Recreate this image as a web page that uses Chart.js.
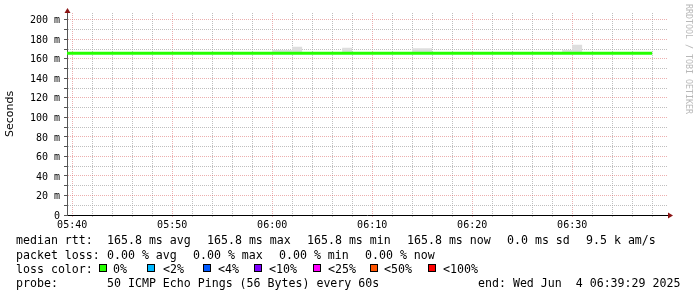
<!DOCTYPE html>
<html>
<head>
<meta charset="utf-8">
<script src="https://cdn.jsdelivr.net/npm/chart.js@4/dist/chart.umd.min.js"></script>
<style>
  body { margin: 0; background: #fff; }
  #wrap { position: relative; width: 697px; height: 297px; overflow: hidden; background: #fff; }
  canvas { position: absolute; left: 0; top: 0; }
  .txt { position: absolute; font: 11.6px 'DejaVu Sans Mono', monospace; line-height: 14px; white-space: pre; color: #000; }
  .box { position: absolute; width: 6px; height: 6px; border: 1px solid #000; }
  #credit { position: absolute; left: 684px; top: 4px; writing-mode: vertical-rl; font: 8.3px 'DejaVu Sans Mono', monospace; color: #b8b8b8; white-space: pre; }
</style>
</head>
<body>
<div id="wrap">
  <canvas id="pingChart" width="697" height="297"></canvas>
  <div id="credit">RRDTOOL / TOBI OETIKER</div>
</div>
<script>
// one sample per minute, value covers [t, t+1min)
const times = ['05:39','05:40','05:41','05:42','05:43','05:44','05:45','05:46','05:47','05:48',
               '05:49','05:50','05:51','05:52','05:53','05:54','05:55','05:56','05:57','05:58',
               '05:59','06:00','06:01','06:02','06:03','06:04','06:05','06:06','06:07','06:08',
               '06:09','06:10','06:11','06:12','06:13','06:14','06:15','06:16','06:17','06:18',
               '06:19','06:20','06:21','06:22','06:23','06:24','06:25','06:26','06:27','06:28',
               '06:29','06:30','06:31','06:32','06:33','06:34','06:35','06:36','06:37','06:38'];
// median rtt in ms
const median = [165.8,165.8,165.8,165.8,165.8,165.8,165.8,165.8,165.8,165.8,
                165.8,165.8,165.8,165.8,165.8,165.8,165.8,165.8,165.8,165.8,
                165.8,165.8,165.8,165.8,165.8,165.8,165.8,165.8,165.8,165.8,
                165.8,165.8,165.8,165.8,165.8,165.8,165.8,165.8,165.8,165.8,
                165.8,165.8,165.8,165.8,165.8,165.8,165.8,165.8,165.8,165.8,
                165.8,165.8,165.8,165.8,165.8,165.8,165.8,165.8,165.8,165.8];
// smoke band (min / max of the pings)
const smokeLow = [165.2,165.2,165.2,165.2,165.2,165.2,165.2,165.2,165.2,165.2,
                  165.2,165.2,165.2,165.2,165.2,165.2,165.2,165.2,165.2,165.2,
                  165.2,165.2,165.2,165.2,165.2,165.2,165.2,165.2,165.2,165.2,
                  165.2,165.2,165.2,165.2,165.2,165.2,165.2,165.2,165.2,165.2,
                  165.2,165.2,165.2,165.2,165.2,165.2,165.2,165.2,165.2,165.2,
                  165.2,165.2,165.2,165.2,165.2,165.2,165.2,165.2,165.2,165.2];
const smokeHigh = [165.2,165.2,165.2,165.2,165.2,165.2,165.2,165.2,165.2,165.2,
                   165.2,165.2,165.2,165.2,165.2,165.2,165.2,165.2,165.2,165.2,
                   165.2,169.2,169.2,172.3,165.2,165.2,165.2,165.2,171.3,165.2,
                   165.2,165.2,165.2,165.2,165.2,171.0,171.0,165.2,165.2,165.2,
                   165.2,165.2,165.2,165.2,165.2,165.2,165.2,165.2,165.2,165.2,
                   169.0,174.4,165.2,165.2,165.2,165.2,165.2,165.2,165.2,165.2];

const xTickLabels = ['05:40','05:50','06:00','06:10','06:20','06:30'];
const yTickValues = [0,10,20,30,40,50,60,70,80,90,100,110,120,130,140,150,160,170,180,190,200];
const yTickLabels = ['0','20 m','40 m','60 m','80 m','100 m','120 m','140 m','160 m','180 m','200 m'];

const rttStats = ['165.8 ms avg','165.8 ms max','165.8 ms min','165.8 ms now','0.0 ms sd','9.5 k am/s'];
const lossStats = ['0.00 % avg','0.00 % max','0.00 % min','0.00 % now'];
const lossNames = ['0%','<2%','<4%','<10%','<25%','<50%','<100%'];
const lossColors = ['#26ff00','#00b8ff','#0059ff','#7e00ff','#ff00ff','#ff5500','#ff0000'];
const probeText = '50 ICMP Echo Pings (56 Bytes) every 60s';
const endText = 'end: Wed Jun  4 06:39:29 2025';

const toMin = t => { const [h, m] = t.split(':').map(Number); return (h * 60 + m) - (5 * 60 + 40); };
const xs = times.map(toMin);
const pts = arr => arr.map((v, i) => ({x: xs[i], y: v}));

const minorGrid = 'rgba(170,170,170,0.75)';
const majorGrid = 'rgba(220,110,110,0.55)';

const arrows = {
  id: 'arrows',
  afterDraw(chart) {
    const {ctx, chartArea: a} = chart;
    ctx.save();
    ctx.strokeStyle = '#000';
    ctx.lineWidth = 1;
    ctx.beginPath();
    ctx.moveTo(a.right, a.bottom + 0.5);
    ctx.lineTo(a.right + 2, a.bottom + 0.5);
    ctx.stroke();
    ctx.fillStyle = '#8b1414';
    ctx.beginPath();
    ctx.moveTo(a.left + 0.5, a.top - 5);
    ctx.lineTo(a.left - 2.5, a.top);
    ctx.lineTo(a.left + 3.5, a.top);
    ctx.fill();
    ctx.beginPath();
    ctx.moveTo(a.right + 6, a.bottom + 0.5);
    ctx.lineTo(a.right + 1, a.bottom - 2.5);
    ctx.lineTo(a.right + 1, a.bottom + 3.5);
    ctx.fill();
    ctx.restore();
  }
};

new Chart(document.getElementById('pingChart'), {
  type: 'line',
  data: {
    datasets: [
      {data: pts(median), borderColor: '#26ff00', borderWidth: 3, stepped: true, clip: 0, fill: false},
      {data: pts(smokeLow), borderWidth: 0, borderColor: 'rgba(0,0,0,0)', stepped: true, clip: 0, fill: false},
      {data: pts(smokeHigh), borderWidth: 0, borderColor: 'rgba(0,0,0,0)', backgroundColor: '#dedede', stepped: true, clip: 0, fill: '-1'}
    ]
  },
  options: {
    responsive: false,
    animation: false,
    events: [],
    elements: {point: {radius: 0}, line: {tension: 0}},
    layout: {padding: {left: 0, top: 13, right: 30, bottom: 62}},
    plugins: {legend: {display: false}, tooltip: {enabled: false}},
    scales: {
      x: {
        type: 'linear',
        min: -31 / 60,
        max: 59 + 29 / 60,
        afterFit: s => { s.height = 20; },
        afterBuildTicks: s => {
          const t = [];
          for (let v = 0; v <= 58; v += 2) t.push({value: v});
          s.ticks = t;
        },
        grid: {
          color: c => (c.tick && c.tick.value % 10 === 0) ? majorGrid : minorGrid,
          tickColor: c => (c.tick && c.tick.value % 10 === 0) ? majorGrid : minorGrid,
          tickLength: 2,
          lineWidth: 1
        },
        border: {display: true, color: '#000', width: 1, dash: [1, 1]},
        ticks: {
          autoSkip: false, maxRotation: 0, padding: 2, color: '#000',
          font: {family: 'DejaVu Sans Mono', size: 10},
          callback: v => v % 10 === 0 ? xTickLabels[v / 10] : ''
        }
      },
      y: {
        min: 0,
        max: 207,
        afterFit: s => { s.width = 67; },
        afterBuildTicks: s => { s.ticks = yTickValues.map(v => ({value: v})); },
        grid: {
          color: c => (c.tick && c.tick.value % 20 === 0) ? majorGrid : minorGrid,
          tickColor: '#555',
          tickLength: 3,
          lineWidth: 1
        },
        border: {display: true, color: '#555', width: 1, dash: [1, 1]},
        title: {display: true, text: 'Seconds', color: '#000', font: {family: 'DejaVu Sans', size: 11}, padding: {top: 4, bottom: 0}},
        ticks: {
          autoSkip: false, padding: 4, labelOffset: 1, color: '#000',
          font: {family: 'DejaVu Sans Mono', size: 10},
          callback: v => v % 20 === 0 ? yTickLabels[v / 20] : ''
        }
      }
    }
  },
  plugins: [arrows]
});

// text legend under the graph
const wrap = document.getElementById('wrap');
function addText(str, left, top) {
  const d = document.createElement('div');
  d.className = 'txt';
  d.textContent = str;
  d.style.left = left + 'px';
  d.style.top = top + 'px';
  wrap.appendChild(d);
}
function addBox(color, left, top) {
  const d = document.createElement('div');
  d.className = 'box';
  d.style.background = color;
  d.style.left = left + 'px';
  d.style.top = top + 'px';
  wrap.appendChild(d);
}
const rowTop = [232.5, 247.5, 261.5, 276];
addText('median rtt:', 16, rowTop[0]);
const rttLeft = [107, 207, 307, 407, 507, 586];
rttStats.forEach((s, i) => addText(s, rttLeft[i], rowTop[0]));
addText('packet loss:', 16, rowTop[1]);
const lossLeft = [107, 193, 279, 365];
lossStats.forEach((s, i) => addText(s, lossLeft[i], rowTop[1]));
addText('loss color:', 16, rowTop[2]);
const boxLeft = [99, 147, 203, 254, 313, 370, 428];
const nameLeft = [113, 163, 218, 269, 328, 384, 443];
lossNames.forEach((s, i) => {
  addBox(lossColors[i], boxLeft[i], 264);
  addText(s, nameLeft[i], rowTop[2]);
});
addText('probe:', 16, rowTop[3]);
addText(probeText, 107, rowTop[3]);
addText(endText, 478, rowTop[3]);
</script>
</body>
</html>
